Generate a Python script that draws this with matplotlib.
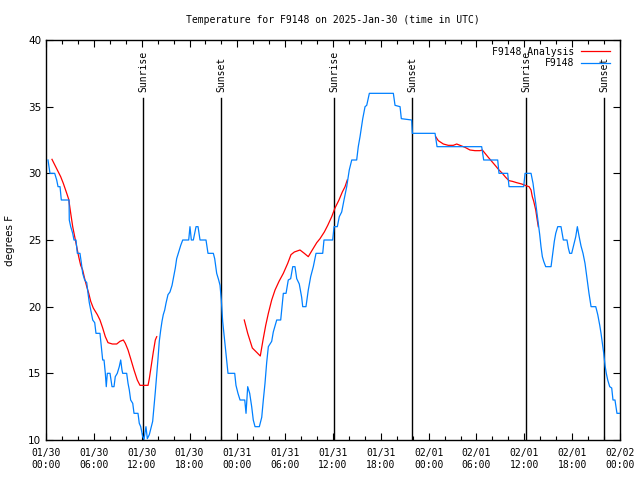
import numpy as np
import matplotlib
matplotlib.use("Agg")
import matplotlib.pyplot as plt
import matplotlib.transforms as mtransforms

# hours since 2025-01-30 00:00 UTC, temperature in degrees F
obs_hours = [0.25, 0.50, 1.09, 1.34, 1.51, 1.76, 1.92, 2.89, 2.92, 3.10, 3.35, 3.51,
             3.76, 3.93, 4.26, 4.43, 4.60, 4.85, 5.11, 5.27, 5.43, 5.86, 6.11, 6.27,
             6.77, 6.94, 7.11, 7.28, 7.44, 7.56, 7.69, 8.03, 8.28, 8.53, 8.69, 8.94,
             9.19, 9.37, 9.53, 9.62, 10.12, 10.29, 10.45, 10.62, 10.88, 11.04, 11.54,
             11.70, 11.88, 12.13, 12.29, 12.54, 12.71, 12.96, 13.21, 13.38, 13.55,
             13.71, 13.89, 14.05, 14.21, 14.39, 14.55, 14.71, 14.89, 15.05, 15.30,
             15.55, 15.81, 15.97, 16.22, 16.39, 16.65, 16.90, 17.15, 17.90, 18.06,
             18.23, 18.48, 18.82, 19.07, 19.32, 20.07, 20.32, 20.99, 21.16, 21.41,
             21.66, 21.83, 21.99, 22.16, 22.33, 22.49, 22.67, 22.83, 23.67, 23.83,
             24.08, 24.34, 24.93, 25.09, 25.30, 25.55, 25.80, 26.00, 26.22, 26.76,
             27.06, 27.26, 27.47, 27.68, 27.89, 28.31, 28.51, 28.94, 29.44, 29.77,
             30.11, 30.39, 30.69, 30.95, 31.23, 31.45, 31.77, 32.07, 32.20, 32.61,
             32.90, 33.20, 33.53, 33.87, 34.71, 34.87, 35.96, 36.13, 36.54, 36.79,
             37.09, 37.38, 37.72, 38.04, 38.35, 38.97, 39.17, 39.39, 39.73, 40.02,
             40.23, 40.56, 43.57, 43.78, 44.41, 44.57, 45.87, 45.95, 48.80, 49.05,
             54.65, 54.90, 56.66, 56.82, 57.91, 58.08, 59.92, 60.09, 60.84, 61.09,
             61.25, 61.43, 61.59, 61.75, 61.93, 62.09, 62.26, 62.43, 62.68, 63.35,
             63.51, 63.76, 63.94, 64.19, 64.60, 64.89, 65.35, 65.52, 65.69, 65.94,
             66.19, 66.45, 66.65, 66.86, 67.11, 67.36, 67.61, 67.78, 67.95, 68.11,
             68.37, 68.96, 69.21, 69.46, 69.62, 69.79, 69.96, 70.12, 70.28, 70.46,
             70.71, 70.96, 71.12, 71.37, 71.62, 72.00]
obs_temps = [31.0, 30.0, 30.0, 29.5, 29.0, 29.0, 28.0, 28.0, 26.5, 26.0, 25.5, 25.0,
             25.0, 24.0, 24.0, 23.3, 22.5, 22.0, 21.8, 21.0, 20.3, 19.0, 18.8, 18.0,
             18.0, 17.0, 16.0, 16.0, 15.0, 14.0, 15.0, 15.0, 14.0, 14.0, 14.75, 15.0,
             15.5, 16.0, 15.25, 15.0, 15.0, 14.25, 13.75, 13.0, 12.75, 12.0, 12.0,
             11.25, 11.0, 10.25, 10.05, 11.0, 10.1, 10.4, 11.0, 11.4, 12.5,
             13.6, 14.9, 16.1, 17.4, 18.25, 18.9, 19.4, 19.75, 20.25, 20.9,
             21.1, 21.6, 22.1, 22.9, 23.6, 24.1, 24.6, 25.0, 25.0, 26.0,
             25.0, 25.0, 26.0, 26.0, 25.0, 25.0, 24.0, 24.0, 23.6, 22.5,
             22.0, 21.6, 20.5, 18.9, 17.9, 16.9, 15.9, 15.0, 15.0, 14.1,
             13.5, 13.0, 13.0, 12.0, 14.0, 13.5, 12.5, 11.5, 11.0, 11.0,
             11.7, 13.0, 14.25, 15.8, 17.0, 17.4, 18.1, 19.0, 19.0, 21.0,
             21.0, 22.0, 22.1, 23.0, 23.0, 22.1, 21.7, 20.7, 20.0, 20.0,
             21.25, 22.25, 23.0, 24.0, 24.0, 25.0, 25.0, 26.0, 26.0, 26.75,
             27.1, 28.0, 29.0, 30.25, 31.0, 31.0, 32.0, 32.75, 34.1, 35.0,
             35.1, 36.0, 36.0, 35.1, 35.0, 34.1, 34.0, 33.0, 33.0, 32.0,
             32.0, 31.0, 31.0, 30.0, 30.0, 29.0, 29.0, 30.0, 30.0, 29.25,
             28.5, 27.75, 27.0, 26.25, 25.4, 24.5, 23.75, 23.4, 23.0, 23.0,
             23.75, 24.9, 25.5, 26.0, 26.0, 25.0, 25.0, 24.4, 24.0, 24.0,
             24.6, 25.25, 26.0, 25.3, 24.55, 24.0, 23.25, 22.5, 21.75, 21.0,
             20.0, 20.0, 19.4, 18.6, 18.0, 17.25, 16.5, 15.6, 15.0, 14.5,
             14.0, 13.9, 13.0, 13.0, 12.0, 12.0]

# analysis comes in three separate runs
ana1_hours = [0.75, 1.42, 1.84, 2.17, 2.60, 2.85, 3.10, 3.35, 3.60, 3.85, 4.10, 4.35,
              4.60, 4.85, 5.11, 5.36, 5.61, 5.93, 6.44, 6.77, 7.11, 7.44, 7.78, 8.32,
              8.87, 9.28, 9.70, 9.95, 10.29, 10.62, 11.04, 11.45, 11.79, 12.80, 12.96,
              13.21, 13.46, 13.71, 13.89]
ana1_temps = [31.05, 30.25, 29.75, 29.25, 28.5, 28.05, 27.0, 26.0, 25.25, 24.5, 23.75,
              23.1, 22.75, 22.1, 21.5, 21.0, 20.4, 19.9, 19.4, 19.0, 18.4, 17.75, 17.3,
              17.2, 17.2, 17.4, 17.5, 17.25, 16.75, 16.1, 15.25, 14.5, 14.1, 14.1, 14.6,
              15.6, 16.6, 17.5, 17.75]
ana2_hours = [24.87, 25.30, 25.88, 26.47, 26.88, 27.22, 27.56, 27.89, 28.31, 28.73,
              29.23, 29.77, 30.32, 30.73, 31.15, 31.86, 32.40, 32.90, 33.40, 33.96,
              34.37, 34.91, 35.34, 35.84, 36.25, 36.75, 37.17, 37.51, 37.79]
ana2_temps = [19.0, 18.0, 16.9, 16.55, 16.3, 17.5, 18.6, 19.5, 20.5, 21.25, 21.9, 22.5,
              23.25, 23.9, 24.1, 24.25, 24.0, 23.75, 24.25, 24.8, 25.1, 25.6, 26.1,
              26.75, 27.4, 28.0, 28.6, 29.0, 29.5]
ana3_hours = [48.88, 49.21, 49.84, 50.46, 51.09, 51.52, 51.93, 52.56, 53.18, 53.81,
              54.44, 54.73, 55.07, 55.48, 55.91, 56.41, 56.82, 57.24, 57.66, 58.08,
              58.49, 59.04, 59.67, 60.09, 60.59, 60.84, 61.00, 61.18, 61.43, 61.59, 61.75]
ana3_temps = [32.75, 32.45, 32.2, 32.1, 32.1, 32.2, 32.1, 31.95, 31.75, 31.7, 31.7,
              31.75, 31.5, 31.2, 30.9, 30.55, 30.25, 30.0, 29.7, 29.45, 29.4, 29.3,
              29.2, 29.1, 29.0, 28.75, 28.25, 27.9, 27.25, 26.6, 26.0]

sun_hours = [12.20, 21.95, 36.17, 45.95, 60.25, 70.03]
sun_labels = ["Sunrise", "Sunset", "Sunrise", "Sunset", "Sunrise", "Sunset"]

tick_hours = list(range(0, 73, 6))
tick_labels = ["01/30\n00:00", "01/30\n06:00", "01/30\n12:00", "01/30\n18:00",
               "01/31\n00:00", "01/31\n06:00", "01/31\n12:00", "01/31\n18:00",
               "02/01\n00:00", "02/01\n06:00", "02/01\n12:00", "02/01\n18:00",
               "02/02\n00:00"]

MONO = "DejaVu Sans Mono"


def make_plot():
    fig = plt.figure(figsize=(6.4, 4.8), dpi=100)
    ax = fig.add_axes([46 / 640, 40 / 480, 574 / 640, 400 / 480])

    red = "#ff0000"
    blue = "#0080ff"
    ax.plot(ana1_hours, ana1_temps, color=red, lw=0.9, label="F9148 Analysis", zorder=3)
    ax.plot(ana2_hours, ana2_temps, color=red, lw=0.9, zorder=3)
    ax.plot(ana3_hours, ana3_temps, color=red, lw=0.9, zorder=3)
    ax.plot(obs_hours, obs_temps, color=blue, lw=0.9, label="F9148", zorder=4)

    trans = mtransforms.blended_transform_factory(ax.transData, ax.transAxes)
    for h, lab in zip(sun_hours, sun_labels):
        ax.axvline(h, ymin=0, ymax=0.855, color="black", lw=1.0, zorder=2)
        ax.text(h, 0.87, lab, transform=trans, rotation=90, ha="center",
                va="bottom", fontsize=7, family=MONO)

    ax.set_xlim(0, 72)
    ax.set_ylim(10, 40)
    ax.set_xticks(tick_hours)
    ax.set_xticklabels(tick_labels, family=MONO, fontsize=7)
    ax.set_xticks(np.arange(0, 73, 2), minor=True)
    ax.set_yticks(range(10, 41, 5))
    ax.set_yticklabels([str(v) for v in range(10, 41, 5)], fontsize=7.5)
    ax.tick_params(axis="both", which="both", direction="in", top=True, right=True,
                   width=0.8)
    ax.tick_params(axis="both", which="major", length=5)
    ax.tick_params(axis="both", which="minor", length=3)
    ax.tick_params(axis="x", pad=6)
    for sp in ax.spines.values():
        sp.set_linewidth(1.0)

    ax.set_ylabel("degrees F", fontsize=7.5)
    ax.yaxis.set_label_coords(-31 / 574, 0.5)
    fig.text(333 / 640, 1 - 20 / 480,
             "Temperature for F9148 on 2025-Jan-30 (time in UTC)",
             ha="center", va="center", fontsize=7, family=MONO)

    leg = ax.legend(loc="upper right", bbox_to_anchor=(0.983, 0.983), frameon=False,
                    markerfirst=False, handlelength=3.0, handletextpad=0.7,
                    borderpad=0, borderaxespad=0, labelspacing=0.15,
                    prop={"family": MONO, "size": 7})
    leg.set_zorder(5)

    fig.savefig("out.png", dpi=100)


if __name__ == "__main__":
    make_plot()
